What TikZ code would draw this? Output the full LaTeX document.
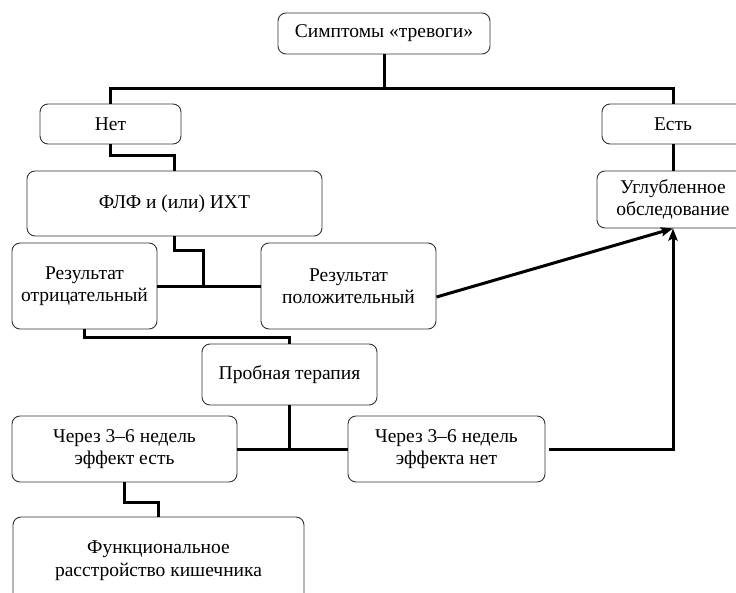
\documentclass[tikz,border=0pt]{standalone}
\usepackage{fontspec}
\setmainfont{Liberation Serif}
\newfontfamily\boxfont{Liberation Serif}
\usetikzlibrary{arrows.meta}
\begin{document}
\begin{tikzpicture}[x=1pt,y=-1pt,
  box/.style={draw=black!80, line width=0.9pt, rounded corners=8pt, fill=white,
    align=center, inner sep=2pt, font=\boxfont\fontsize{19.5}{22.5}\selectfont},
  conn/.style={line width=3pt},
  arr/.style={line width=3pt, -{Stealth[length=12pt,width=9pt,inset=2pt]}}]
\clip (0,0) rectangle (736,592);
\fill[white] (0,0) rectangle (736,592);
% nodes
\node[box, minimum width=212pt, minimum height=41pt] (sym) at (384,33.5) {Симптомы «тревоги»};
\node[box, minimum width=141pt, minimum height=40pt] (net) at (110.5,124) {Нет};
\node[box, minimum width=142pt, minimum height=40pt] (est) at (673,124) {Есть};
\node[box, minimum width=295pt, minimum height=65pt] (flf) at (174.5,203.5) {ФЛФ и (или) ИХТ};
\node[box, minimum width=152pt, minimum height=57pt] (ugl) at (673,199.5) {Углубленное\\обследование};
\node[box, minimum width=145pt, minimum height=86pt] (neg) at (84.5,286) {Результат\\отрицательный};
\node[box, minimum width=175pt, minimum height=86pt] (pos) at (348.5,286) {Результат\\положительный};
\node[box, minimum width=175pt, minimum height=61pt] (prob) at (289.5,374.5) {Пробная терапия};
\node[box, minimum width=225pt, minimum height=66pt] (eff1) at (124.5,449) {Через 3–6 недель\\эффект есть};
\node[box, minimum width=197pt, minimum height=66pt] (eff0) at (446.5,449) {Через 3–6 недель\\эффекта нет};
\node[box, minimum width=291pt, minimum height=87pt] (func) at (158.5,560.5) {Функциональное\\расстройство кишечника};
% junctions
\coordinate (j1) at (384,88);
\coordinate (j2) at (203,286);
% connectors
\draw[conn] (sym.south) -- (j1);
\draw[conn] (net.north) |- (j1) -| (est.north);
\draw[conn] (net.south) -- ++(0,11) -| (flf.north);
\draw[conn] (est.south) -- (ugl.north);
\draw[conn] (flf.south) -- ++(0,14) -| (j2);
\draw[conn] (neg.east) -- (pos.west);
\draw[arr] ([yshift=-11pt]pos.east) -- (ugl.south);
\draw[conn] (neg.south) -- ++(0,8) -| (prob.north);
\draw[conn] (eff1.east) -- (eff0.west);
\draw[conn] (prob.south) -- (prob.south |- eff1.east);
\draw[arr] ([xshift=4pt]eff0.east) -| (ugl.south);
\draw[conn] (eff1.south) -- ++(0,20) -| (func.north);
\end{tikzpicture}
\end{document}
